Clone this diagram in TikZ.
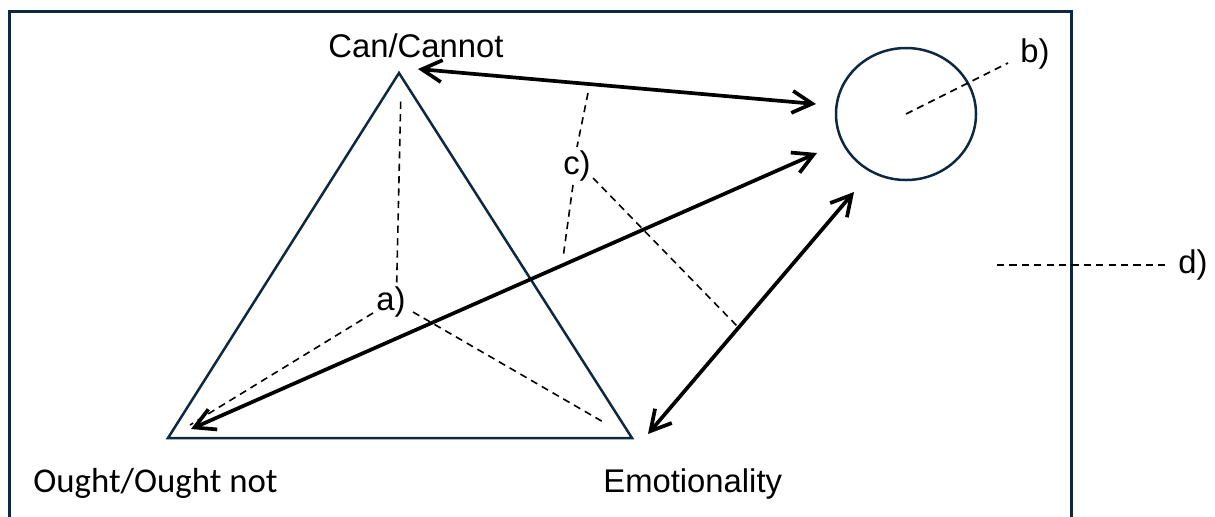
\documentclass[tikz,border=0pt]{standalone}
\usepackage{fontspec}
\setmainfont{Liberation Sans}
\newfontfamily\calib{Carlito}
\usetikzlibrary{arrows.meta}
\definecolor{navy}{RGB}{14,40,65}
\tikzset{
  frameline/.style={draw=navy, line width=1.5pt},
  shapeline/.style={draw=navy, line width=1.25pt},
  bigarrow/.style={draw=black, line width=1.85pt, {Straight Barb[length=10pt,width=11pt]}-{Straight Barb[length=10pt,width=11pt]}},
  dashline/.style={draw=black, line width=0.8pt, dash pattern=on 3.6pt off 2.6pt},
  lbl/.style={inner sep=0pt, font=\fontsize{16.4}{19}\selectfont},
}
\begin{document}
\begin{tikzpicture}[x=0.5pt, y=-0.5pt]
\useasboundingbox (0,0) rectangle (1215,516);
\clip (0,0) rectangle (1215,516);
% frame
\draw[frameline] (9.5,11.5) rectangle (1071,540);
% triangle
\coordinate (A) at (399,73);
\coordinate (B) at (168,438);
\coordinate (C) at (632,438);
\draw[shapeline, line join=miter] (A) -- (B) -- (C) -- cycle;
% circle
\coordinate (O) at (906,114);
\draw[shapeline] (O) ellipse [x radius=35pt, y radius=33pt];
% labels
\node[lbl, anchor=base west] (can) at (328,57) {Can/Cannot};
\node[lbl, anchor=base west, font=\calib\fontsize{17.4}{20}\selectfont] (ought) at (33,492) {Ought/Ought not};
\node[lbl, anchor=base west] (emo) at (603,492) {Emotionality};
\node[lbl] (la) at (391,302) {a)};
\node[lbl] (lb) at (1035,54) {b)};
\node[lbl] (lc) at (577,166) {c)};
\node[lbl] (ld) at (1193,265) {d)};
% arrow end points
\coordinate (p1) at (418,69);
\coordinate (q1) at (816,104);
\coordinate (p2) at (191,429);
\coordinate (q2) at (817,153);
\coordinate (p3) at (648,434);
\coordinate (q3) at (854,192);
\draw[bigarrow] (p1) -- (q1);
\draw[bigarrow] (p2) -- (q2);
\draw[bigarrow] (p3) -- (q3);
% dashed lines a)
\coordinate (a1) at (400.7,101.7);
\coordinate (a2) at (396.7,283);
\coordinate (a3) at (373,313);
\coordinate (a4) at (190,425);
\coordinate (a5) at (413,312);
\coordinate (a6) at (605,423);
\draw[dashline] (a1) -- (a2);
\draw[dashline] (a3) -- (a4);
\draw[dashline] (a5) -- (a6);
% dashed lines c)
\coordinate (c1) at (588,93);
\coordinate (c2) at (577,147);
\coordinate (c3) at (573,185);
\coordinate (c4) at (563,258);
\coordinate (c5) at (593,178);
\coordinate (c6) at (738,327);
\draw[dashline] (c1) -- (c2);
\draw[dashline] (c3) -- (c4);
\draw[dashline] (c5) -- (c6);
% dashed line b)
\coordinate (b2) at (1008,63);
\draw[dashline] (O) -- (b2);
% dashed line d)
\coordinate (d1) at (997,265);
\coordinate (d2) at (1168,265);
\draw[dashline] (d1) -- (d2);
\end{tikzpicture}
\end{document}
